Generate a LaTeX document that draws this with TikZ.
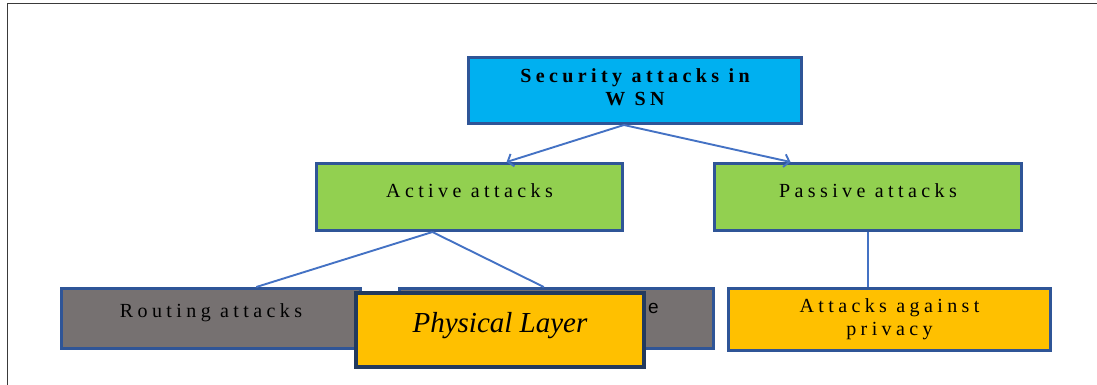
\documentclass[tikz,border=0pt]{standalone}
\usepackage{fontspec}
\setmainfont{Liberation Serif}
\newfontfamily\spacedfont[LetterSpace=22]{Liberation Serif}
\newfontfamily\sansfont{Liberation Sans}
\usetikzlibrary{arrows.meta,calc}
\definecolor{wsncyan}{HTML}{00B0F0}
\definecolor{leafgreen}{HTML}{92D050}
\definecolor{stonegray}{HTML}{767171}
\definecolor{amber}{HTML}{FFC000}
\definecolor{edgeblue}{HTML}{2F5597}
\definecolor{navy}{HTML}{223A5E}
\definecolor{linkblue}{HTML}{4472C4}
\definecolor{framegray}{HTML}{3A3A3A}
\begin{document}
\begin{tikzpicture}[x=1pt,y=-1pt,
  box/.style={draw=edgeblue,line width=3pt,inner sep=0pt,align=center,
    font=\spacedfont\fontsize{20}{23}\selectfont},
  link/.style={draw=linkblue,line width=1.9pt},
  tip/.style={-{Straight Barb[length=5pt,width=13pt,line width=1.9pt]}},
  frame/.style={draw=framegray,line width=1.6pt}]
\useasboundingbox (0,0) rectangle (1097,385);

% page frame (left and top edges)
\draw[frame] (7.5,385) -- (7.5,3.5) -- (1097,3.5);

% root
\node[box,fill=wsncyan,minimum width=333pt,minimum height=66pt,
      font=\spacedfont\bfseries\fontsize{20}{23}\selectfont]
  (wsn) at (635,90.5) {Security attacks in\\W SN\rule[-6pt]{0pt}{0pt}};

% second level
\node[box,fill=leafgreen,minimum width=306pt,minimum height=67pt,
      text height=20pt,text depth=20pt] (active) at (469.5,197) {Active attacks};
\node[box,fill=leafgreen,minimum width=307pt,minimum height=67pt,
      text height=20pt,text depth=20pt] (passive) at (868,197) {Passive attacks};

% third level
\node[box,fill=stonegray,minimum width=299pt,minimum height=60pt,
      text height=20pt,text depth=23pt] (routing) at (211,318.5) {Routing attacks};
\node[box,fill=stonegray,minimum width=314pt,minimum height=60pt] (layer) at (556.5,318.5) {};
\node[inner sep=0pt,anchor=base west,font=\sansfont\fontsize{19}{22}\selectfont]
  (layertail) at (648,313) {e};
\node[box,fill=amber,minimum width=322pt,minimum height=62pt]
  (privacy) at (889.5,319.5) {Attacks against\\privacy};

% connectors
\draw[link,tip] ($(wsn.south west)!0.467!(wsn.south east)$)
  -- ($(active.north west)!0.62!(active.north east)$);
\draw[link,tip] ($(wsn.south west)!0.467!(wsn.south east)$)
  -- ($(passive.north west)!0.25!(passive.north east)$);
\draw[link] ($(active.south west)!0.38!(active.south east)$)
  -- ($(routing.north west)!0.65!(routing.north east)$);
\draw[link] ($(active.south west)!0.38!(active.south east)$)
  -- ($(layer.north west)!0.46!(layer.north east)$);
\draw[link,line width=1.4pt] (passive.south) -- (passive.south |- privacy.north);

% overlay box
\node[draw=navy,line width=4pt,fill=amber,inner sep=0pt,minimum width=288pt,minimum height=74pt,
      font=\itshape\fontsize{29}{32}\selectfont,text height=20pt,text depth=16pt]
  (physical) at (500,330) {Physical Layer};
\end{tikzpicture}
\end{document}
